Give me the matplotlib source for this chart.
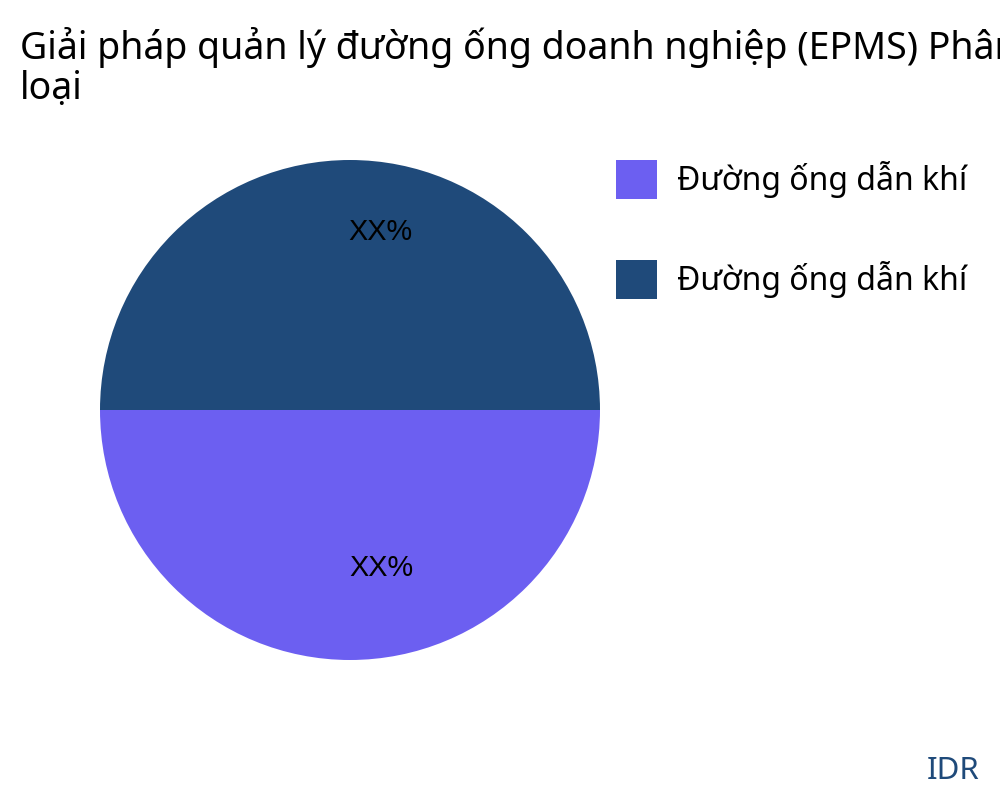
import matplotlib
matplotlib.use("Agg")
import matplotlib.pyplot as plt
from matplotlib.patches import Patch

TITLE = "Giải pháp quản lý đường ống doanh nghiệp (EPMS) Phân\nloại"
LABELS = ["Đường ống dẫn khí", "Đường ống dẫn khí"]
VALUES = [50, 50]
SLICE_TEXT = ["XX%", "XX%"]
COLORS = ["#6C5FF1", "#1F4A7A"]

plt.rcParams["font.family"] = ["Noto Sans", "DejaVu Sans"]

fig = plt.figure(figsize=(10, 8), dpi=100)
ax = fig.add_axes([0.1, 0.175, 0.5, 0.625])

wedges, _ = ax.pie(VALUES, colors=COLORS, startangle=180, counterclock=True,
                   radius=1.0, wedgeprops=dict(linewidth=0))
ax.set_xlim(-1, 1)
ax.set_ylim(-1, 1)
ax.set_aspect("equal")
ax.axis("off")

# slice labels, placed like the reference
label_pos = [(0.124, -0.63), (0.12, 0.71)]
for (x, y), t in zip(label_pos, SLICE_TEXT):
    ax.text(x, y, t, ha="center", va="center", fontsize=20.8,
            family=["Liberation Sans", "DejaVu Sans"], color="black")

# the reference title runs past the right edge, so it is clipped there too
fig.text(0.02, 1 - 27 / 800, TITLE, ha="left", va="top", fontsize=27,
         linespacing=1.08, color="black")

handles = [Patch(facecolor=c, edgecolor="none") for c in COLORS]
fig.legend(handles, LABELS, loc="upper left", bbox_to_anchor=(0.616, 0.8),
           frameon=False, fontsize=23, handlelength=1.28, handleheight=1.5,
           handletextpad=0.62, labelspacing=1.91, borderpad=0,
           borderaxespad=0)

fig.text(0.98, 0.017, "IDR", ha="right", va="bottom", fontsize=22.5,
         color="#1F4A7A")

fig.savefig("out.png", dpi=100)
